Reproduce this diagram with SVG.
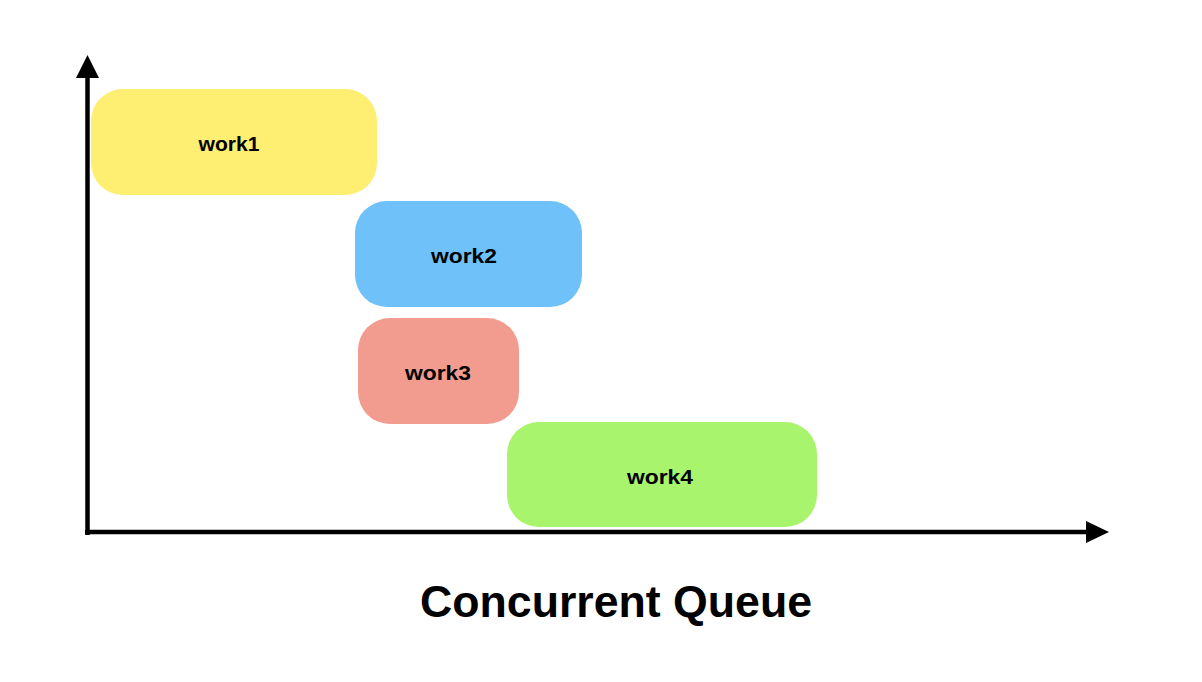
<svg xmlns="http://www.w3.org/2000/svg" width="1202" height="682" viewBox="0 0 1202 682">
<style>
.lbl{font-family:"Liberation Sans",Arial,sans-serif;font-weight:bold;font-size:20px;fill:#000;text-anchor:middle}
.title{font-family:"Liberation Sans",Arial,sans-serif;font-weight:bold;font-size:44px;fill:#000;text-anchor:middle}
.axis{stroke:#000;stroke-width:4.5;fill:none}
</style>
<rect width="1202" height="682" fill="#fff"/>
<g id="connectors">
<line class="axis" x1="87.5" y1="535" x2="87.5" y2="76"/>
<polygon points="87.5,55 76,78 99,78" fill="#000"/>
<line class="axis" x1="85" y1="532" x2="1088" y2="532"/>
<polygon points="1109,532 1086,521 1086,543" fill="#000"/>
</g>
<g id="work1">
<rect x="91" y="89" width="286" height="106" rx="32" fill="#FEEE72"/>
<text class="lbl" x="229" y="151" textLength="61" lengthAdjust="spacingAndGlyphs">work1</text>
</g>
<g id="work2">
<rect x="355" y="201" width="227" height="106" rx="32" fill="#6FC1F9"/>
<text class="lbl" x="464" y="263" textLength="66" lengthAdjust="spacingAndGlyphs">work2</text>
</g>
<g id="work3">
<rect x="358" y="318" width="161" height="106" rx="32" fill="#F29C8F"/>
<text class="lbl" x="438" y="380" textLength="66" lengthAdjust="spacingAndGlyphs">work3</text>
</g>
<g id="work4">
<rect x="507" y="422" width="310" height="105" rx="32" fill="#A8F56D"/>
<text class="lbl" x="660" y="484" textLength="66" lengthAdjust="spacingAndGlyphs">work4</text>
</g>
<g id="title">
<text class="title" x="616" y="617" textLength="392" lengthAdjust="spacingAndGlyphs">Concurrent Queue</text>
</g>
</svg>
